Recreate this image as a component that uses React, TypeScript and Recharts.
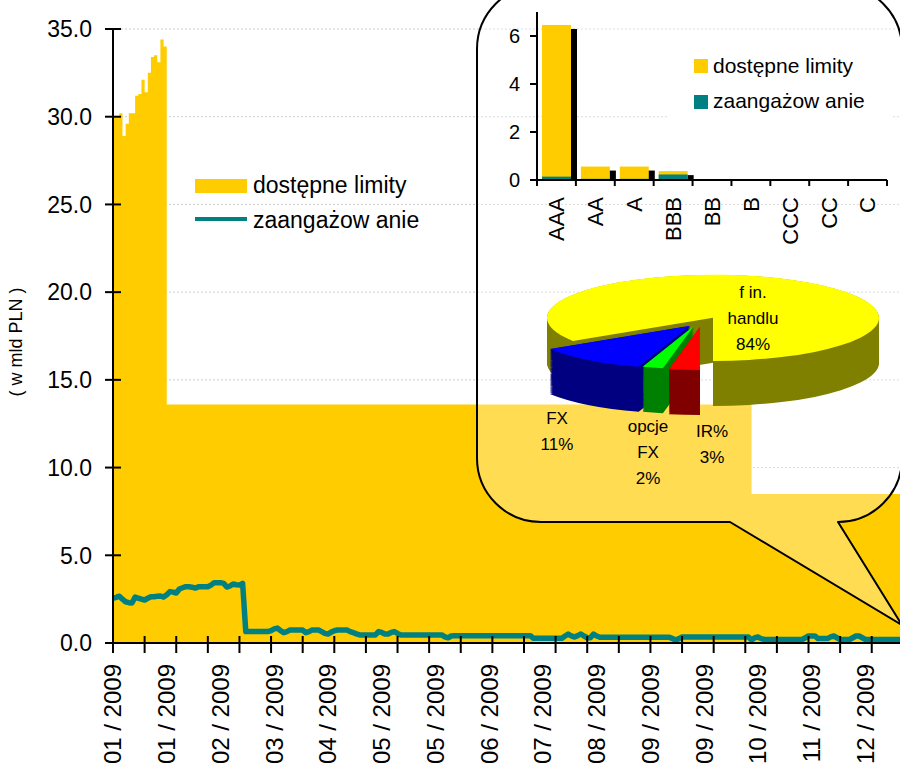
import {
  ComposedChart,
  Area,
  Line,
  XAxis,
  YAxis,
  CartesianGrid,
  BarChart,
  Bar,
  PieChart,
  Pie,
  Cell,
} from "recharts";

const FONT = '"Liberation Sans", Arial, sans-serif';

// business days per month, 2009 (Polish calendar)
const monthDays = [21, 20, 22, 21, 20, 21, 23, 21, 22, 22, 20, 22];
const monthCodes = ["01", "02", "03", "04", "05", "06", "07", "08", "09", "10", "11", "12"];

// available limits, bn PLN: daily values in January, then flat runs [value, days]
const limitJanuary = [30.0, 30.0, 30.2, 28.9, 29.6, 30.2, 30.2, 31.2, 31.3, 32.1, 31.4, 32.5, 33.4, 33.5, 33.1, 34.4, 34.0];
const limitRuns: [number, number][] = [
  [13.6, 185],
  [8.5, 53],
];

// commitment, bn PLN
const usedEarly = [
  2.55, 2.6, 2.67, 2.5, 2.35, 2.3, 2.28, 2.62, 2.55, 2.5, 2.45, 2.55, 2.64, 2.64, 2.66, 2.68, 2.62, 2.75, 2.93, 2.9, 2.85,
  3.08, 3.15, 3.21, 3.21, 3.18, 3.13, 3.2, 3.21, 3.21, 3.21, 3.3, 3.44, 3.44, 3.44, 3.4, 3.19, 3.25, 3.36, 3.32, 3.3, 3.4,
];
const usedRuns: [number, number][] = [
  [0.65, 8], [0.7, 1], [0.8, 1], [0.85, 1], [0.7, 1], [0.59, 1], [0.65, 1], [0.74, 5], [0.59, 1], [0.65, 1],
  [0.74, 3], [0.65, 1], [0.55, 1], [0.51, 1], [0.62, 1], [0.7, 1], [0.74, 4], [0.65, 1], [0.59, 1], [0.52, 1],
  [0.46, 6], [0.65, 1], [0.6, 1], [0.51, 2], [0.6, 1], [0.65, 1], [0.55, 1], [0.46, 14], [0.35, 1], [0.3, 1],
  [0.4, 1], [0.42, 25], [0.27, 10], [0.4, 1], [0.51, 1], [0.4, 1], [0.34, 1], [0.42, 1], [0.51, 1], [0.4, 1],
  [0.3, 2], [0.51, 1], [0.4, 1], [0.33, 23], [0.25, 1], [0.17, 1], [0.25, 1], [0.34, 22], [0.17, 1], [0.3, 1],
  [0.34, 1], [0.25, 1], [0.2, 13], [0.3, 1], [0.4, 3], [0.25, 4], [0.35, 1], [0.4, 1], [0.3, 1], [0.2, 4],
  [0.3, 1], [0.4, 2], [0.3, 1], [0.2, 17],
];

const yTicks = [0, 5, 10, 15, 20, 25, 30, 35];

// limits by counterparty rating
const ratings = ["AAA", "AA", "A", "BBB", "BB", "B", "CCC", "CC", "C"];
const ratingLimits = [6.46, 0.56, 0.56, 0.37, 0, 0, 0, 0, 0];
const ratingUsed = [0.14, 0.05, 0.05, 0.23, 0, 0, 0, 0, 0];
const ratingTicks = [0, 2, 4, 6];

// commitment by product
const productNames = [["f in.", "handlu"], ["FX"], ["opcje", "FX"], ["IR%"]];
const productShares = [84, 11, 2, 3];

const expand = (head: number[], runs: [number, number][]) => [
  ...head,
  ...runs.flatMap(([v, n]) => Array(n).fill(v)),
];

const dayLabels: string[] = monthDays.flatMap((n, m) => Array(n).fill(`${monthCodes[m]} / 2009`));
const limitSeries = expand(limitJanuary, limitRuns);
const usedSeries = expand(usedEarly, usedRuns);

const mainData = dayLabels.map((label, idx) => ({
  idx,
  label,
  limit: limitSeries[idx],
  used: usedSeries[idx],
}));

const ratingData = ratings.map((name, i) => ({ name, limit: ratingLimits[i], used: ratingUsed[i] }));
const pieData = productShares.map((share, i) => ({ name: productNames[i].join(" "), share }));

const YELLOW = "#FFCC00";
const TEAL = "#008080";

const YTick = (p: any) => (
  <g>
    <line x1={p.x - 8} x2={p.x + 8} y1={p.y} y2={p.y} stroke="#000" strokeWidth={2} />
    <text x={p.x - 21} y={p.y} dy="0.36em" textAnchor="end" fontSize={23} fill="#000">
      {Number(p.payload.value).toFixed(1)}
    </text>
  </g>
);

const DayTick = (p: any) => {
  const i = p.payload.value;
  return (
    <g>
      {i % 10 === 0 && <line x1={p.x} x2={p.x} y1={p.y - 7} y2={p.y + 10} stroke="#000" strokeWidth={2} />}
      {i % 17 === 0 && (
        <text
          transform={`translate(${p.x},${p.y + 21}) rotate(-90)`}
          dy="0.35em"
          textAnchor="end"
          fontSize={24}
          fill="#000"
        >
          {dayLabels[i]}
        </text>
      )}
    </g>
  );
};

// inset rating chart geometry
const INSET_W = 420;
const INSET_H = 270;
const INSET_M = { top: 12, right: 13, bottom: 0, left: 0 };
const INSET_AXIS_W = 57;
const INSET_AXIS_H = 90;
const INSET_BAND = (INSET_W - INSET_M.right - INSET_AXIS_W) / ratings.length;

const RatingTick = (p: any) => {
  const last = p.index === ratings.length - 1;
  return (
    <g>
      <line x1={p.x - INSET_BAND / 2} x2={p.x - INSET_BAND / 2} y1={p.y} y2={p.y + 6} stroke="#000" strokeWidth={2} />
      {last && (
        <line x1={p.x + INSET_BAND / 2} x2={p.x + INSET_BAND / 2} y1={p.y} y2={p.y + 6} stroke="#000" strokeWidth={2} />
      )}
      <text
        transform={`translate(${p.x},${p.y + 17}) rotate(-90)`}
        dy="0.36em"
        textAnchor="end"
        fontSize={22}
        fill="#000"
      >
        {p.payload.value}
      </text>
    </g>
  );
};

// yellow bars carry a black drop shadow
const ShadowBar = (p: any) => {
  const { x, y, width, height, fill } = p;
  if (!height || height <= 0) return <g />;
  return (
    <g>
      <rect x={x + 6} y={y + 4} width={width} height={Math.max(height - 4, 0)} fill="#000" />
      <rect x={x} y={y} width={width} height={height} fill={fill} />
    </g>
  );
};

// 3-D pie built from stacked flat pies, squashed vertically
const PIE_SCALE = 0.26;
const PIE_LEFT = 513;
const PIE_W = 400;
const PIE_H = 600;
const PIE_CX = 200;
const PIE_CY = 180;
const PIE_R = 166;
const PIE_DEPTH = 173;
const PIE_TOP = 318 - PIE_CY * PIE_SCALE;
const pieTop = ["#FFFF00", "#0000FF", "#00FF00", "#FF0000"];
const pieSide = ["#808000", "#000080", "#008000", "#800000"];
const pieExplode = [
  [0, 0],
  [-23, 8],
  [-19, 8],
  [-13, 9],
];
// back slice first, then the exploded ones from left to right
const pieOrder = [0, 1, 2, 3];
const pieLayers = Array.from({ length: 44 }, (_, k) => PIE_DEPTH - k * 4);

const pieLabelPos = [
  { x: 753, y: 298 },
  { x: 557, y: 424 },
  { x: 648, y: 432 },
  { x: 712, y: 437 },
];

function renderPieSlice(s: number) {
  const cx = PIE_CX + pieExplode[s][0];
  const cy = PIE_CY + pieExplode[s][1] / PIE_SCALE;
  const layer = (d: number, color: string, key: string) => (
    <Pie
      key={key}
      data={pieData}
      dataKey="share"
      cx={cx}
      cy={cy + d}
      outerRadius={PIE_R}
      startAngle={-90}
      endAngle={270}
      stroke="none"
      isAnimationActive={false}
    >
      {pieData.map((_, i) => (
        <Cell key={i} fill={i === s ? color : "transparent"} stroke="none" />
      ))}
    </Pie>
  );
  return [...pieLayers.map((d) => layer(d, pieSide[s], `s${s}-${d}`)), layer(0, pieTop[s], `t${s}`)];
}

// rounded callout with a tail pointing to the lower right
const CALLOUT = { l: 477, r: 902, t: -15, b: 522, rad: 64, tailA: 730, tailB: 838, tipX: 902, tipY: 625 };
const c = CALLOUT;
const calloutPath = [
  `M ${c.l + c.rad} ${c.t}`,
  `H ${c.r - c.rad}`,
  `A ${c.rad} ${c.rad} 0 0 1 ${c.r} ${c.t + c.rad}`,
  `V ${c.b - c.rad}`,
  `A ${c.rad} ${c.rad} 0 0 1 ${c.r - c.rad} ${c.b}`,
  `L ${c.tipX} ${c.tipY}`,
  `L ${c.tailA} ${c.b}`,
  `H ${c.l + c.rad}`,
  `A ${c.rad} ${c.rad} 0 0 1 ${c.l} ${c.b - c.rad}`,
  `V ${c.t + c.rad}`,
  `A ${c.rad} ${c.rad} 0 0 1 ${c.l + c.rad} ${c.t}`,
  "Z",
].join(" ");

const abs = { position: "absolute" as const, left: 0, top: 0 };

export default function App() {
  return (
    <div
      style={{
        ...abs,
        width: 900,
        height: 771,
        overflow: "hidden",
        background: "#fff",
        fontFamily: FONT,
      }}
    >
      <div style={abs}>
        <ComposedChart
          width={960}
          height={771}
          data={mainData}
          margin={{ top: 29, right: 44, bottom: 0, left: 0 }}
        >
          <CartesianGrid vertical={false} stroke="#cccccc" strokeDasharray="2 2" />
          <XAxis
            dataKey="idx"
            type="category"
            scale="point"
            interval={0}
            height={128}
            tickSize={0}
            tickMargin={0}
            tick={DayTick}
            axisLine={{ stroke: "#000", strokeWidth: 2 }}
          />
          <YAxis
            type="number"
            width={113}
            domain={[0, 35]}
            ticks={yTicks}
            interval={0}
            tickSize={0}
            tickMargin={0}
            tick={YTick}
            axisLine={{ stroke: "#000", strokeWidth: 2 }}
          />
          <Area
            type="stepAfter"
            dataKey="limit"
            fill={YELLOW}
            fillOpacity={1}
            stroke="none"
            isAnimationActive={false}
          />
          <Line
            type="linear"
            dataKey="used"
            stroke={TEAL}
            strokeWidth={5.5}
            strokeLinejoin="round"
            dot={false}
            activeDot={false}
            isAnimationActive={false}
          />
        </ComposedChart>
      </div>

      <svg style={abs} width={900} height={771}>
        <path d={calloutPath} fill="rgba(255,255,255,0.32)" stroke="#000" strokeWidth={2} strokeLinejoin="round" />
      </svg>

      <div style={{ ...abs, left: 480 }}>
        <BarChart
          width={INSET_W}
          height={INSET_H}
          data={ratingData}
          margin={INSET_M}
          barSize={29}
          barGap={-29}
        >
          <XAxis
            dataKey="name"
            interval={0}
            height={INSET_AXIS_H}
            tickSize={0}
            tickMargin={0}
            tick={RatingTick}
            axisLine={{ stroke: "#000", strokeWidth: 2 }}
          />
          <YAxis
            type="number"
            width={INSET_AXIS_W}
            domain={[0, 7]}
            ticks={ratingTicks}
            interval={0}
            tickSize={7}
            tickMargin={10}
            tick={{ fill: "#000", fontSize: 20 }}
            tickLine={{ stroke: "#000", strokeWidth: 2 }}
            axisLine={{ stroke: "#000", strokeWidth: 2 }}
          />
          <Bar dataKey="limit" fill={YELLOW} shape={ShadowBar} isAnimationActive={false} />
          <Bar dataKey="used" fill={TEAL} isAnimationActive={false} />
        </BarChart>
      </div>

      <div
        style={{
          ...abs,
          left: PIE_LEFT,
          top: PIE_TOP,
          transform: `scaleY(${PIE_SCALE})`,
          transformOrigin: "0 0",
        }}
      >
        <PieChart width={PIE_W} height={PIE_H} margin={{ top: 0, right: 0, bottom: 0, left: 0 }}>
          {pieOrder.flatMap((s) => renderPieSlice(s))}
        </PieChart>
      </div>

      <svg style={abs} width={900} height={771} fontFamily={FONT} fill="#000">
        {/* axis title */}
        <text transform="translate(22,342) rotate(-90)" textAnchor="middle" fontSize={18}>
          ( w mld PLN )
        </text>

        {/* main legend */}
        <rect x={195} y={179} width={52} height={14} fill={YELLOW} />
        <text x={253} y={193} fontSize={23}>dostępne limity</text>
        <line x1={195} x2={247} y1={219} y2={219} stroke={TEAL} strokeWidth={4} />
        <text x={253} y={228} fontSize={23}>zaangażow anie</text>

        {/* rating chart legend */}
        <rect x={668} y={40} width={225} height={85} fill="#fff" />
        <rect x={694} y={59} width={14} height={14} fill={YELLOW} />
        <text x={713} y={73} fontSize={21}>dostępne limity</text>
        <rect x={694} y={95} width={14} height={14} fill={TEAL} />
        <text x={713} y={108} fontSize={21}>zaangażow anie</text>

        {/* pie labels */}
        {pieData.map((d, i) => {
          const lines = [...productNames[i], `${d.share}%`];
          return (
            <text key={d.name} x={pieLabelPos[i].x} y={pieLabelPos[i].y} textAnchor="middle" fontSize={17}>
              {lines.map((t, k) => (
                <tspan key={k} x={pieLabelPos[i].x} dy={k === 0 ? 0 : 26}>
                  {t}
                </tspan>
              ))}
            </text>
          );
        })}
      </svg>
    </div>
  );
}
